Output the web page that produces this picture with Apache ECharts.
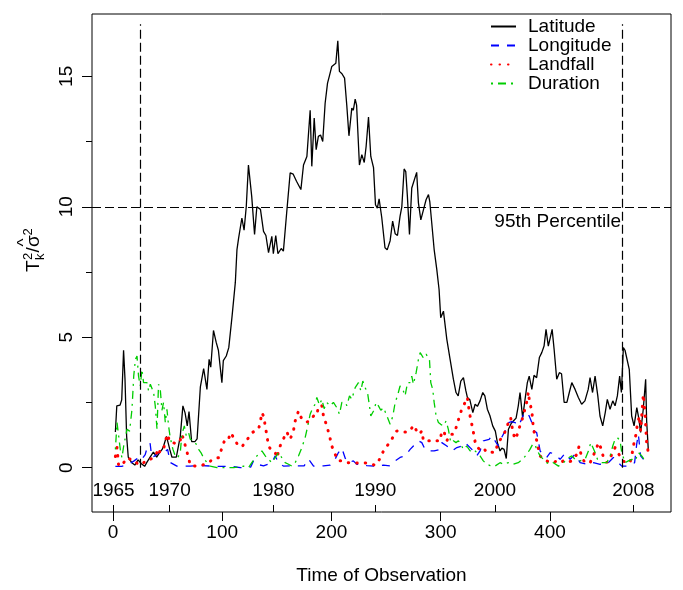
<!DOCTYPE html>
<html>
<head>
<meta charset="utf-8">
<script src="https://cdn.jsdelivr.net/npm/echarts@6.0.0/dist/echarts.min.js"></script>
<style>
  html, body { margin: 0; padding: 0; background: #fff; }
  #chart { width: 683px; height: 590px; }
</style>
</head>
<body>
<div id="chart"></div>
<script>
// 数据: [观测序号, 值]
var latitude = [[2.2,1.37],[3.5,2.37],[6.5,2.4],[8,2.6],[9.7,4.5],[11,3.4],[12.5,1.2],[14,0.4],[17,0.2],[20,0.1],[23,0.3],[26,0.15],[29,0.05],[31,0.2],[34,0.4],[37,0.6],[40,0.4],[43,0.6],[45,0.7],[46.5,0.85],[49,1.2],[52,0.7],[54,0.4],[58,0.4],[61.6,1.2],[64,2.37],[66,2.1],[68,1.6],[69.6,2.15],[72,1.0],[75,1.0],[77,1.1],[80,3.1],[83,3.8],[84.5,3.75],[86,3.0],[88,4.15],[89.5,3.85],[92,5.26],[94.5,4.8],[96.5,4.5],[99.7,3.26],[101,4.1],[103.7,4.28],[106,4.6],[109,5.8],[112,7.1],[113.5,8.36],[115,8.8],[118,9.57],[120,9.1],[122,10.0],[124,11.6],[127,10.4],[129.6,8.94],[131.7,10.0],[135,9.9],[137.8,9.06],[140,8.9],[142.4,8.24],[145.4,8.87],[146.8,8.2],[149,8.9],[151,8.2],[154,8.4],[156,8.3],[159,9.77],[162.2,11.3],[165,11.25],[168,10.98],[169.5,11.05],[172,10.66],[174.4,11.6],[177.5,11.93],[179,12.0],[180.5,13.7],[182,11.55],[184.2,13.4],[186,12.19],[188,12.7],[190,12.75],[192,12.5],[194.2,13.97],[196.4,14.74],[198,15.0],[200.3,15.38],[202,15.45],[204,15.5],[205.8,16.36],[207.3,15.19],[209.6,15.1],[212,14.93],[214,13.9],[216,12.72],[218.6,13.78],[220,13.7],[221.7,14.13],[223,13.9],[225.6,11.6],[227.8,12.0],[230,11.7],[231.7,12.3],[233.9,13.44],[236,11.93],[238.5,11.5],[240.3,10.08],[242,9.95],[243.6,10.3],[246,9.6],[249,8.43],[251,8.35],[253.7,8.7],[256,9.45],[258.3,8.97],[260.4,8.9],[262.8,9.64],[264.4,10.0],[266.5,11.45],[268,11.35],[269.5,10.4],[271.4,8.94],[273.5,10.72],[278,11.32],[279.6,10.15],[281.8,9.5],[284,9.85],[286.6,10.27],[288.8,10.47],[290,10.2],[291.8,9.38],[294,8.36],[296.4,7.6],[298.5,6.83],[300,5.75],[302.5,6.0],[305.6,4.92],[308.6,4.15],[311.6,3.39],[314,2.88],[316,2.75],[318.4,3.32],[320.8,3.45],[323,2.95],[324.4,2.69],[326.7,2.6],[329.4,2.11],[331.5,2.43],[333.6,2.35],[336,2.56],[338.5,2.88],[340.4,2.75],[342.7,2.24],[345,2.0],[347.6,1.6],[350,1.4],[351.9,0.96],[354.3,0.64],[356,0.75],[358,0.7],[360,0.35],[362,1.47],[364.6,1.7],[366.5,1.79],[369,1.9],[371,2.37],[372.6,2.88],[375,1.92],[377.2,2.62],[379.3,3.26],[381,3.51],[383.4,3.0],[385.4,3.54],[387.8,3.45],[390.3,4.22],[392.5,4.41],[394.6,4.66],[396.4,5.3],[398.5,4.66],[400,4.66],[402,5.3],[403.8,4.54],[406.2,3.39],[408.6,3.64],[410.6,3.6],[413,2.5],[415.5,2.5],[417.7,2.88],[420,3.26],[423,3.0],[426,2.69],[429,2.43],[432,2.56],[435,3.0],[436.7,3.45],[439,2.88],[441.3,3.51],[443.8,2.75],[445.8,1.98],[448.3,1.6],[450.6,2.11],[452.5,2.62],[455,2.24],[457.5,2.56],[459.6,2.37],[461.7,2.75],[463.8,3.51],[465.4,2.88],[467.2,4.6],[468.7,4.5],[470.2,4.54],[472.6,3.77],[474.8,1.98],[477,1.6],[479.5,2.3],[481.2,1.92],[483,1.35],[485.4,2.24],[487.6,3.39],[488.5,1.8],[490,0.7]];

var longitude = [[2.2,0.05],[8,0.05],[14.5,0.13],[19,0.25],[23.4,0.39],[26,0.3],[29.5,0.5],[31.7,0.83],[34,0.93],[35.5,0.4],[38.5,0.45],[41.7,0.58],[44.8,0.5],[47.9,0.62],[50,0.7],[52.4,0.2],[58.5,0.06],[70.7,0.06],[80,0.08],[95,0.05],[107.5,0.05],[116.7,0],[126,0.02],[128.6,0.26],[131.7,0.13],[137.8,0.07],[145.4,0.19],[148.5,0.45],[151.5,0.19],[156,0.06],[168.3,0.07],[175,0.07],[179,0.33],[183.6,0.06],[192.7,0.07],[198.8,0.1],[203.4,0.33],[206.4,0.58],[209.5,0.75],[212.6,0.36],[215.6,0.19],[220,0.26],[223.2,0.13],[232.3,0.08],[241.5,0.05],[247.6,0.1],[253.7,0.07],[258.3,0.26],[262.8,0.39],[267.4,0.45],[272,0.7],[275,0.83],[279.6,1.03],[282.7,0.96],[285.7,0.7],[288.8,0.64],[294,0.64],[299.4,0.7],[301,0.96],[305.6,0.83],[310.2,0.64],[314.8,0.77],[319.3,0.83],[322.3,0.96],[328.5,0.7],[333,0.45],[336,0.64],[339,1.03],[344.3,1.08],[346.7,1.22],[349.7,1.03],[352.6,0.83],[355.7,1.15],[359,1.41],[362,1.73],[365,1.76],[368,1.73],[371,1.6],[374.2,1.86],[376.3,2.11],[378.7,2.11],[381,1.98],[383.4,1.73],[385.4,1.41],[387.8,1.35],[389.3,1.03],[391,0.64],[394,0.51],[397,0.39],[400.2,0.58],[404.7,0.51],[409.3,0.32],[413.9,0.55],[418.4,0.32],[423,0.51],[427.6,0.19],[433.7,0.13],[439.8,0.19],[445.9,0.13],[452,0.13],[458.1,0.39],[462.7,0.19],[465.7,0.06],[471.8,0.06],[474.9,0.13],[477.5,0.19],[479.4,0.9],[480.9,1.28],[483,0.45],[486,0.3],[488.1,0.26]];

var landfall = [[2.2,0.43],[3.7,0.77],[5.2,0.06],[6.7,0.1],[9.8,0.19],[12.8,0.38],[15.9,0.32],[18.9,0.3],[22,0.17],[25,0.1],[28.1,0.19],[31.1,0.32],[34.2,0.32],[37.2,0.39],[40.3,0.58],[41.8,0.45],[43.3,0.7],[46.3,0.7],[47.9,1.03],[50,1.28],[51.8,0.99],[54.9,0.96],[57,0.93],[61,0.96],[63,1.28],[64.6,1.09],[67.1,0.7],[69.2,0.38],[70.7,0.09],[75.3,0.06],[81.4,0.09],[87.5,0.19],[92.1,0.35],[96.7,0.38],[99.7,0.75],[102.7,1.11],[105.8,1.11],[107.9,1.34],[111.9,1.03],[114.9,0.83],[118,0.8],[121,0.96],[124.1,1.15],[127.1,1.34],[130.2,1.41],[133.2,1.47],[134.8,1.73],[136.3,2.11],[137.8,1.98],[139.4,1.6],[140.9,1.22],[142.4,0.83],[145.4,0.64],[148.5,0.58],[150,0.38],[153,0.83],[156.1,1.11],[159.1,1.37],[162.2,1.09],[165.2,1.41],[166.8,1.79],[169.8,2.17],[171.4,1.98],[174.4,1.79],[177.5,1.75],[180.5,1.79],[183.6,1.98],[186.6,2.0],[188.1,2.37],[191.2,2.37],[192.7,1.98],[195.7,1.6],[198.2,1.22],[200.3,0.83],[203.4,0.51],[206.4,0.26],[211,0.26],[215,0.19],[221.7,0.17],[227.8,0.19],[234,0.17],[240,0.09],[244,0.32],[247.6,0.64],[250.6,0.83],[253.7,0.96],[256.8,1.22],[259.8,1.41],[262.8,1.37],[265.9,1.37],[269,1.37],[272,1.41],[275,1.63],[278,1.41],[280.5,1.28],[282.7,1.41],[284.2,1.03],[287.2,1.03],[290.3,1.03],[293.3,1.07],[296.4,1.03],[299.4,1.03],[301,1.41],[303.1,1.37],[305.6,1.03],[308.6,1.28],[311.6,1.28],[314.7,1.6],[317.2,1.98],[319.3,2.24],[322.3,2.5],[324.4,2.69],[325.4,2.37],[326.9,1.98],[329.4,1.47],[331.5,0.99],[333.6,0.77],[336,0.7],[339,0.77],[342.1,0.58],[345.2,0.6],[349.7,0.58],[352.7,0.96],[355.8,1.15],[357.9,1.28],[359.7,1.47],[362,1.73],[364,1.92],[365.9,1.41],[368,1.09],[370.2,1.28],[372,1.54],[374.2,1.79],[376.3,2.13],[378.1,2.37],[380.3,2.9],[381.2,2.55],[383.4,2.17],[384.9,1.47],[386.4,1.22],[388,1.03],[389.5,0.7],[391,0.45],[394,0.32],[397,0.26],[400.2,0.19],[403.2,0.19],[406.2,0.26],[409.3,0.19],[412.4,0.26],[415.4,0.19],[420,0.26],[424.6,0.51],[426.7,0.83],[429.1,0.39],[432.2,0.19],[436.8,0.19],[439.8,0.48],[442.3,0.7],[444.4,0.96],[446.5,0.77],[449,0.39],[452,0.19],[455.1,0.38],[457.5,0.58],[459.6,0.77],[461.8,0.58],[464.2,0.45],[466.7,0.26],[470.2,0.19],[473.3,0.19],[475.7,0.64],[477,0.96],[478.8,1.28],[480,1.66],[481.9,1.98],[483,1.41],[484.9,2.5],[485.5,2.81],[487,2.11],[488.5,0.96],[490,0.58]];

var duration = [[2.2,0.7],[3.7,1.73],[5.2,1.22],[6.7,0.7],[8.2,0.38],[9.8,0.83],[12.8,1.47],[15.2,1.4],[17.4,2.24],[19,3.51],[20.5,4.15],[22,4.28],[23.4,3.51],[25,3.13],[26.5,3.77],[28,3.26],[31.1,3.26],[32.6,2.94],[34.2,3.2],[37.2,2.88],[38.7,2.37],[40.3,1.47],[41.7,3.2],[43.3,3.0],[44.8,2.2],[46.3,2.5],[47.9,1.73],[49.4,2.24],[50.9,1.6],[52.4,1.15],[54.9,0.7],[57,0.45],[59.2,0.38],[61.6,0.58],[63.1,1.28],[65.3,1.6],[67.1,1.22],[69.2,1.35],[70.7,1.09],[73.8,1.03],[76.2,0.9],[78.4,0.7],[80.5,0.58],[82.9,0.38],[86,0.19],[89,0.06],[95.2,0.0],[101.3,0.0],[110.4,0.0],[119.5,0.06],[124.1,0.0],[127.1,0.19],[130.2,0.38],[133.2,0.51],[136.3,0.64],[139.4,0.45],[142.4,0.32],[145.4,0.19],[148.5,0.38],[151.5,0.58],[154.6,0.38],[157.6,0.19],[160.7,0.13],[163.7,0.06],[166.8,0.19],[169.8,0.45],[172.9,0.77],[175.9,1.15],[178,1.54],[180.5,2.05],[182.9,2.3],[185.1,2.43],[186.6,2.69],[189,2.4],[191.2,2.62],[193.3,2.26],[195.7,2.5],[198.8,2.37],[201.8,2.5],[204.9,2.3],[207.3,2.05],[209.5,2.5],[212.6,2.5],[214.1,2.37],[216.5,2.75],[218.6,2.62],[221.7,3.07],[224.7,3.26],[226.9,2.94],[228.7,3.32],[230.8,3.07],[233,2.88],[234.8,2.37],[236,1.98],[238.5,2.17],[240.9,2.5],[243,2.37],[245.2,2.2],[247.6,2.3],[250.6,2.0],[253.7,1.66],[256.2,1.98],[258.3,2.5],[260.4,2.75],[262.8,3.13],[265.3,3.0],[267.4,2.75],[269.6,3.26],[272,3.26],[273.5,3.51],[275,3.2],[277.5,3.64],[279.6,4.15],[281.2,4.41],[282.7,4.47],[284.2,4.2],[286.6,4.35],[287.9,4.28],[289.7,4.15],[290.9,3.26],[292.7,3.0],[294,2.5],[295.8,1.98],[297.9,1.73],[300,1.66],[302.5,1.6],[304.9,1.79],[307,1.47],[309.2,0.96],[311.6,1.03],[314,0.96],[316.2,1.03],[318.3,0.9],[320.8,0.7],[323.8,0.83],[326.9,0.64],[330,0.7],[333,0.58],[336,0.45],[339,0.26],[342.1,0.13],[345.2,0.08],[349.7,0.06],[354.3,0.19],[357.3,0.13],[361.9,0.19],[366.5,0.13],[371,0.19],[375,0.32],[378.7,0.51],[381.7,0.7],[384.2,0.9],[386.3,0.9],[387.8,0.7],[391,0.45],[394,0.32],[397,0.19],[400.2,0.13],[403.2,0.19],[407.8,0.06],[412.4,0.19],[417,0.38],[420,0.45],[423,0.32],[427.6,0.26],[432.2,0.32],[435.2,0.64],[437.4,0.96],[439.2,1.03],[441.3,0.58],[443.5,0.32],[447.5,0.19],[452,0.19],[455.1,0.45],[457.5,0.83],[459.6,1.09],[461.8,1.15],[464.2,1.03],[465.7,0.58],[468.8,0.19],[471.8,0.26],[474.9,0.32],[477.9,0.26],[481,0.58],[484,0.45],[486.2,0.32],[488.5,0.26]];

// 坐标轴刻度
var xTicks = [0, 100, 200, 300, 400];
var yTicks = [0, 5, 10, 15];
var yMinorTicks = [2.5, 7.5, 12.5];
var yearPos = [0.5, 51.8, 146.9, 240.1, 349.7, 476.4];
var yearLabels = ['1965', '1970', '1980', '1990', '2000', '2008'];

// 参考线
var changePoints = [24.7, 466.3];
var threshold = 10;
var thresholdLabel = '95th Percentile';

var FONT = 'Liberation Sans, Arial, Helvetica, sans-serif';
var yearMap = {};
yearPos.forEach(function (p, i) { yearMap[p] = yearLabels[i]; });

var chart = echarts.init(document.getElementById('chart'));

var refLines = changePoints.map(function (x) {
    return [{ coord: [x, 0] }, { coord: [x, 17] }];
});
refLines.push({ yAxis: threshold });

function txt(s, x, y, size) {
    return { type: 'text', x: x, y: y, style: { text: s, fontSize: size, fontFamily: FONT, fill: '#000', verticalAlign: 'bottom' } };
}

chart.setOption({
    animation: false,
    backgroundColor: '#fff',
    textStyle: { fontFamily: FONT },
    grid: {
        left: 92, right: 12, top: 14, bottom: 77,
        show: true, borderColor: '#000', borderWidth: 1
    },
    legend: {
        orient: 'vertical',
        left: 485, top: 12,
        itemWidth: 25, itemHeight: 10, itemGap: 0,
        itemStyle: { opacity: 0 },
        textStyle: { fontSize: 19, color: '#000', fontFamily: FONT, padding: [0, 0, 0, 7] },
        data: ['Latitude', 'Longitude', 'Landfall', 'Duration']
    },
    xAxis: [{
        type: 'value', min: -19.2, max: 510.8,
        splitLine: { show: false },
        axisLine: { show: false, onZero: false },
        axisTick: { show: true, customValues: xTicks, length: 9, lineStyle: { color: '#000' } },
        axisLabel: { customValues: xTicks, margin: 11, fontSize: 19, color: '#000', fontFamily: FONT },
        name: 'Time of Observation', nameLocation: 'middle', nameGap: 54,
        nameTextStyle: { fontSize: 19, color: '#000', fontFamily: FONT }
    }, {
        type: 'value', min: -19.2, max: 510.8, position: 'bottom', offset: 0,
        splitLine: { show: false },
        axisLine: { show: false, onZero: false },
        axisTick: { show: true, inside: true, customValues: yearPos, length: 7, lineStyle: { color: '#000' } },
        axisLabel: {
            inside: true, customValues: yearPos, margin: 12, fontSize: 19, color: '#000', fontFamily: FONT,
            formatter: function (v) { return yearMap[v] || ''; }
        }
    }],
    yAxis: [{
        type: 'value', min: -1.70, max: 17.39,
        splitLine: { show: false },
        axisLine: { show: false, onZero: false },
        axisTick: { show: true, customValues: yTicks, length: 10, lineStyle: { color: '#000' } },
        axisLabel: { customValues: yTicks, rotate: 90, margin: 16, fontSize: 19, color: '#000', fontFamily: FONT }
    }, {
        type: 'value', min: -1.70, max: 17.39, position: 'left', offset: 0,
        splitLine: { show: false },
        axisLine: { show: false, onZero: false },
        axisTick: { show: true, customValues: yMinorTicks, length: 6, lineStyle: { color: '#000' } },
        axisLabel: { show: false }
    }],
    graphic: [{
        type: 'group',
        x: 43, y: 248,
        rotation: Math.PI / 2,
        children: [
            txt('T', -24, 0, 19),
            txt('2', -12, -8, 13),
            txt('k', -12, 4, 13),
            txt('/', -4.5, 0, 19),
            txt('σ', 1, 0, 19),
            txt('^', 1.5, -10, 17),
            txt('2', 12.5, -8, 13)
        ]
    }],
    series: [{
        name: 'Latitude', type: 'line', data: latitude,
        showSymbol: false, symbol: 'none',
        lineStyle: { color: '#000', width: 1.3, type: 'solid' },
        itemStyle: { color: '#000' }
    }, {
        name: 'Longitude', type: 'line', data: longitude,
        showSymbol: false, symbol: 'none',
        lineStyle: { color: '#0000FF', width: 1.3, type: [8, 8] },
        itemStyle: { color: '#0000FF' }
    }, {
        name: 'Landfall', type: 'line', data: landfall,
        showSymbol: false, symbol: 'none',
        lineStyle: { color: '#FF0000', width: 3, type: [0.5, 8], cap: 'round' },
        itemStyle: { color: '#FF0000' }
    }, {
        name: 'Duration', type: 'line', data: duration,
        showSymbol: false, symbol: 'none',
        lineStyle: { color: '#00CD00', width: 1.3, type: [2, 5, 8, 5] },
        itemStyle: { color: '#00CD00' }
    }, {
        type: 'line', data: [], silent: true,
        markLine: {
            silent: true, symbol: ['none', 'none'],
            label: { show: false },
            lineStyle: { color: '#000', width: 1.2, type: [9, 4] },
            data: refLines
        },
        markPoint: {
            silent: true,
            data: [{
                coord: [407.1, 9.44], symbol: 'circle', symbolSize: 0,
                label: { show: true, position: 'inside', formatter: thresholdLabel, fontSize: 19, color: '#000', fontFamily: FONT }
            }]
        }
    }]
});
</script>
</body>
</html>
